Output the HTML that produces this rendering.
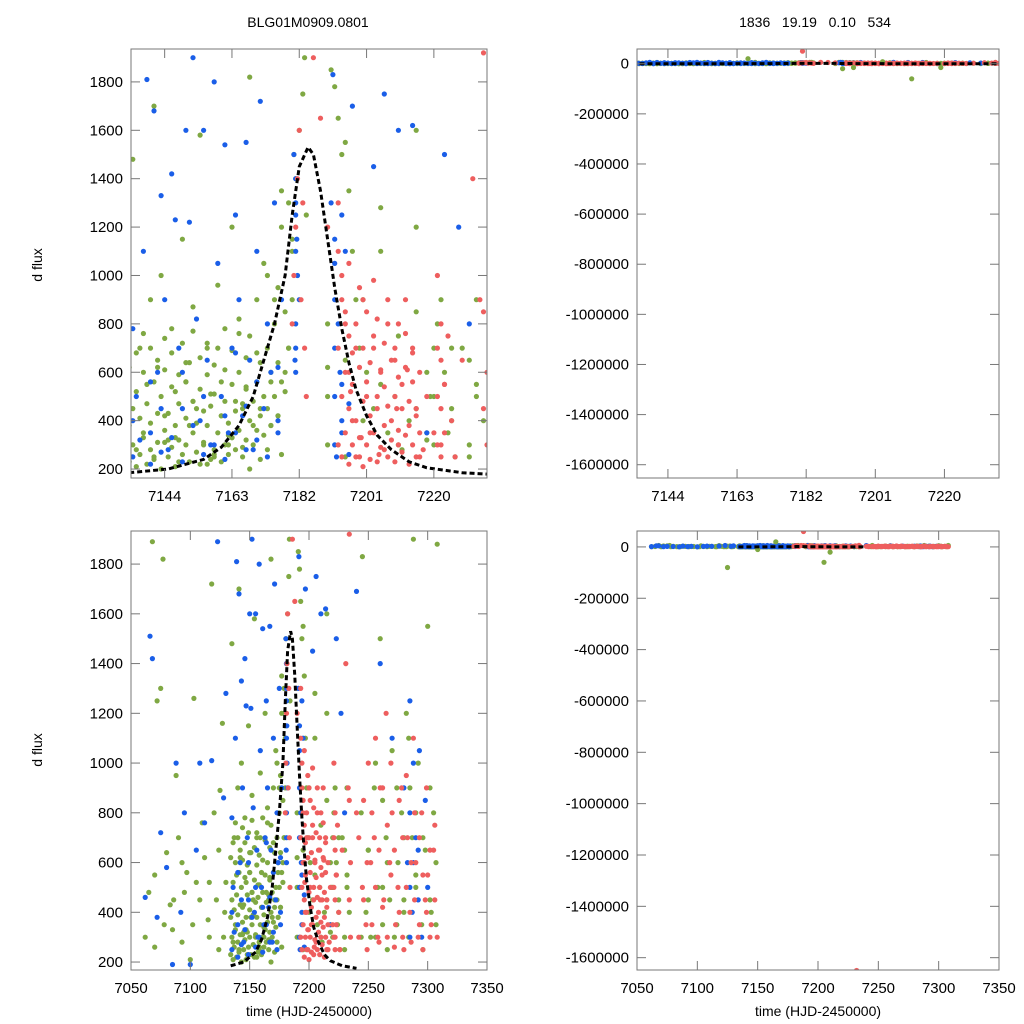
<!DOCTYPE html>
<html><head><meta charset="utf-8">
<style>
html,body{margin:0;padding:0;background:#fff;}
svg{display:block;font-family:"Liberation Sans",Arial,sans-serif;}
</style></head>
<body>
<svg id="chart" width="1024" height="1024" viewBox="0 0 1024 1024">
<text x="308" y="27" font-size="14" text-anchor="middle">BLG01M0909.0801</text>
<text x="815" y="27" font-size="14" text-anchor="middle" xml:space="preserve">1836   19.19   0.10   534</text>
<text transform="translate(42,265) rotate(-90)" font-size="14" text-anchor="middle">d flux</text>
<text transform="translate(42,750) rotate(-90)" font-size="14" text-anchor="middle">d flux</text>
<text x="309" y="1016" font-size="14" text-anchor="middle">time (HJD-2450000)</text>
<text x="818" y="1016" font-size="14" text-anchor="middle">time (HJD-2450000)</text>
</svg>
<script>
// ---- data ----
const greenT=[7065,7068,7072,7075,7077,7080,7083,7085,7088,7090,7095,7097,7100,7103,7105,7110,7112,7115,7118,7120,7122,7125,7127,7128,7130,
7135,7136,7137,7138,7139,7140,7141,7142,7143,7144,7145,7146,7147,7148,7149,7150,7151,7152,7153,7154,7155,7156,7157,7158,7159,7160,7161,7162,7163,7164,7165,7166,7167,7168,7169,7170,7171,7172,7173,7174,7175,7176,7177,7178,7179,7180,7181,7182,7183,7183.5,7184,7180.5,
7141,7147,7152,7158,7163,7168,7171,7174,7177,7144,7150,7156,7162,7166,
7190,7191,7192,7193,7194,7195,7196,7197,7198,7199,7201,7203,7205,7207,7209,7211,7213,7215,7218,7219,7220,7221,7222,7223,7224,7225,7226,7228,7230,7232,7234,
7245,7248,7250,7252,7255,7258,7260,7262,7265,7268,7270,7272,7275,7278,7280,7282,7285,7287,7288,7290,7292,7295,7298,7300,7303,7305,7308];
const greenF=[480,1890,1250,1300,1820,640,430,330,950,700,480,560,210,1260,520,760,620,370,1720,800,450,890,1160,300,520,
1480,280,700,350,550,900,250,620,1000,420,320,780,520,230,1150,640,380,870,450,1580,300,700,510,250,960,420,610,340,1200,480,760,290,540,1820,380,680,450,1050,280,600,900,420,1350,520,700,1100,1400,1600,1750,1900,1250,1500,1700,
330,480,260,330,200,240,380,260,310,560,220,300,450,620,
1850,1780,1650,1500,1550,1350,1100,900,700,600,450,1280,350,500,280,400,1600,320,500,700,800,900,600,350,450,250,700,300,550,400,1830,
400,650,300,900,500,1500,350,700,450,1050,300,600,800,400,1200,900,700,1900,500,1000,350,650,1550,400,800,1880,300];
// grouped extra observations: [time, [fluxes...]]
const greenNights=[[7062,[300]],[7070,[260,550]],[7078,[350]],[7086,[450]],[7093,[280,600]],[7102,[350]],[7108,[450]],[7116,[300,520]],[7124,[250,650]],[7129,[400]],
[7134,[230,380,620]],[7135,[300,450]],[7136,[210,520,680]],[7137,[260,410]],[7138,[330,600,760]],[7139,[220,470]],[7140,[280,390,700]],[7141,[240,560]],[7142,[310,430,650]],[7143,[200,500]],[7144,[360,610,740]],[7145,[250,430]],[7146,[290,540,680]],[7147,[210,380]],[7148,[320,470,590]],[7149,[260,720]],[7150,[300,410,560]],[7151,[230,640]],[7152,[350,480,770]],[7153,[270,390]],[7154,[220,530,660]],[7155,[310,440]],[7156,[380,590,720]],[7157,[240,460]],[7158,[280,510,630]],[7159,[350,700]],[7160,[230,420,560]],[7161,[300,480,780]],[7162,[260,390]],[7163,[330,550,690]],[7164,[280,440]],[7165,[360,600,820]],[7166,[250,470]],[7167,[320,530,660]],[7168,[400,750]],[7169,[300,480]],[7170,[360,560,900]],[7171,[420,640]],[7172,[340,500]],[7173,[450,700,1000]],[7174,[380,560]],[7175,[500,800]],[7176,[420,640,950]],[7177,[560,1200]],[7178,[600,850]],[7179,[700,1300]],[7180,[900,1150]],
[7190,[300,500,800]],[7195,[250,650]],[7200,[400,900]],[7205,[550,1100]],[7210,[300,750]],[7215,[450,850,1200]],[7218,[350,600]],[7220,[300,500]],[7225,[400,700]],[7230,[250,650]],[7232,[500,900]],[7244,[300,800]],[7250,[450,650]],[7256,[300,1000]],[7262,[500,850]],[7266,[250,600]],[7274,[350,900]],[7280,[450,700]],[7284,[300,1100]],[7290,[550,800]],[7296,[250,700]],[7302,[450,900]],[7307,[350,600]]];
const blueT=[7062,7066,7068,7072,7075,7080,7085,7088,7092,7095,7100,7105,7108,7112,7118,7123,7128,7130,
7135,7136,7138,7139,7140,7141,7142,7143,7144,7145,7146,7147,7148,7149,7150,7151,7152,7153,7154,7155,7156,7157,7158,7159,7160,7161,7162,7163,7164,7165,7166,7167,7168,7169,7170,7171,7172,7173,7174,7175,7176,7177,
7180.5,7181,7181.5,7181,7180.8,7181.3,7182,7181,
7191,7192,7193,7193.5,7194,7192.5,7191.5,7195,7197,7203,7206,7210,7214,7218,7223,7227,7230,7240,7260,7270,7280,7283,7285,7287,7290,7293,7295,7298,7300];
const blueF=[460,1510,1420,380,720,580,190,1000,400,800,190,650,1000,760,1010,1890,860,1280,
780,500,1100,1810,350,1680,600,1330,900,280,1420,1230,700,450,1600,1220,1900,820,400,1600,650,300,1800,1050,500,1540,350,700,1250,900,420,1550,650,280,1100,1720,450,800,600,1300,350,900,
1500,1300,1000,800,650,1150,900,1400,
1300,1050,800,600,400,250,1830,1100,1700,1450,1750,1600,1620,350,1500,1200,800,1690,1400,1100,900,600,1250,400,700,1050,300,850,500];
const blueNights=[[7135,[250,400]],[7137,[320]],[7140,[220,560]],[7143,[270,450]],[7146,[330]],[7149,[230,600]],[7152,[380]],[7155,[260,500]],[7158,[300]],[7161,[240,420]],[7164,[350,680]],[7167,[280,460]],[7170,[320,560]],[7173,[250]],[7176,[400,620]],[7181,[600,700,1100,1250]],[7192,[300,500,700,900,1150]],[7194,[350,550,1250]],[7196,[260,470]],[7285,[300,500,800]],[7288,[600,1000]],[7292,[450,650]]];
const redT=[7180,7180.5,7181,7181.5,7182,7182.5,7183,7183.5,7184,
7193,7194,7195,7196,7197,7198,7199,7200,7201,7202,7203,7204,7205,7206,7207,7208,7209,7210,7211,7212,7213,7214,7215,7216,7218,7220,7221,7222,7223,7224,7225,7226,7228,7231,7233,7234,
7240,7245,7248,7250,7252,7255,7258,7260,7263,7265,7268,7270,7273,7275,7278,7280,7283,7285,7288,7290,7292,7295,7298,7300,7303,7305,7308,7188,7190,7186,7196.5,7199.5,7204.5,7209.5,7212.5];
const redF=[800,1000,1200,1400,1600,900,1300,700,500,
1300,1000,800,600,400,700,250,900,500,350,750,450,600,280,800,400,650,300,550,900,380,700,450,250,500,350,1000,300,550,750,400,250,650,1400,900,1920,
800,500,350,1000,600,700,300,900,450,1200,600,800,350,500,900,250,700,400,1100,600,300,800,450,550,350,650,300,1650,1200,1900,520,330,260,450,610];
const redNights=[[7193,[300,700,1100]],[7194,[250,500,900]],[7195,[350,600,850]],[7196,[220,450,750,1050]],[7197,[300,550,680]],[7198,[250,400,800]],[7199,[330,620,950]],[7200,[210,480,700]],[7201,[300,560,850]],[7202,[240,420,640]],[7203,[350,700,980]],[7204,[230,500,820]],[7205,[290,610]],[7206,[380,540,720]],[7207,[250,460,900]],[7208,[320,650]],[7209,[230,500,700]],[7210,[360,580,800]],[7211,[270,450]],[7212,[340,620,760]],[7213,[220,480]],[7214,[300,560,680]],[7215,[250,420]],[7216,[350,600]],[7217,[280]],[7221,[300,500,700]],[7222,[250,450,650,800]],[7223,[350,550]],[7234,[450,850]],[7235,[300,600]],
[7242,[300,700]],[7246,[450,850]],[7249,[250,600]],[7253,[350,800]],[7256,[500,1100]],[7259,[280,650]],[7262,[420,900]],[7266,[300,750]],[7269,[550,1000]],[7272,[260,650]],[7276,[400,850]],[7279,[300,700]],[7282,[500,950]],[7286,[280,600]],[7289,[450,800]],[7293,[350,700]],[7296,[250,550]],[7299,[400,900]],[7302,[300,650]],[7306,[450,750]]];
const modelT=[7134,7145,7155,7160,7165,7169,7172,7175,7178,7180,7182,7184.5,7186,7188,7190,7192,7194,7196,7198,7201,7204,7208,7213,7218,7228,7240];
const modelF=[185,200,240,290,380,500,650,800,1000,1250,1450,1530,1500,1350,1150,950,780,640,530,420,340,280,230,205,185,175];
// outliers in right panels
const outTopT=[7192,7211,7181,7195,7203,7219,7166];
const outTopF=[-20000,-60000,50000,-15000,8000,-15000,20000];
const outTopC=['g','g','r','g','g','g','g'];
const outBotT=[7125,7205,7188,7232,7165,7210,7150];
const outBotF=[-80000,-60000,60000,-1650000,20000,-20000,-10000];
const outBotC=['g','g','r','r','g','g','g'];
const leftTicksTop=[200,400,600,800,1000,1200,1400,1600,1800];
const xTicksTop=[7144,7163,7182,7201,7220];
const xTicksBot=[7050,7100,7150,7200,7250,7300,7350];
const rightTicks=[0,-200000,-400000,-600000,-800000,-1000000,-1200000,-1400000,-1600000];

const COL={g:'#7fa843',b:'#1a5ee8',r:'#ee5e5e'};
const NS='http://www.w3.org/2000/svg';
const svg=document.getElementById('chart');
function mk(tag,attrs,parent){const e=document.createElementNS(NS,tag);for(const k in attrs)e.setAttribute(k,attrs[k]);(parent||svg).appendChild(e);return e;}

const panels=[
 {id:'top-left',x0:131,x1:487,y0:49,y1:478,t0:7134.5,t1:7235,f0:163,f1:1936,yt:leftTicksTop,xt:xTicksTop,right:false},
 {id:'top-right',x0:637,x1:999,y0:49,y1:478,t0:7135.5,t1:7235,f0:-1653000,f1:58800,yt:rightTicks,xt:xTicksTop,right:true,oT:outTopT,oF:outTopF,oC:outTopC},
 {id:'bottom-left',x0:131,x1:487,y0:531,y1:970,t0:7050,t1:7350,f0:168,f1:1933,yt:leftTicksTop,xt:xTicksBot,right:false},
 {id:'bottom-right',x0:637,x1:999,y0:531,y1:970,t0:7050,t1:7350,f0:-1648000,f1:62000,yt:rightTicks,xt:xTicksBot,right:true,oT:outBotT,oF:outBotF,oC:outBotC}
];
panels.forEach((p,i)=>{
 const sx=t=>p.x0+(t-p.t0)/(p.t1-p.t0)*(p.x1-p.x0);
 const sy=f=>p.y1-(f-p.f0)/(p.f1-p.f0)*(p.y1-p.y0);
 const clipId='clip'+i;
 const cp=mk('clipPath',{id:clipId});
 mk('rect',{x:p.x0,y:p.y0,width:p.x1-p.x0,height:p.y1-p.y0},cp);
 const g=mk('g',{'clip-path':'url(#'+clipId+')'});
 
 
 const sc=p.right?3:1;
 const dot=(t,f,c,nm)=>{const e=mk('circle',{cx:sx(t).toFixed(1),cy:sy(f).toFixed(1),r:2.6,fill:COL[c]},g);
  
  };
 greenT.forEach((t,k)=>dot(t,greenF[k]*sc,'g','green-point'));
 greenNights.forEach(n=>n[1].forEach(f=>dot(n[0],f*sc,'g','green-point')));
 blueT.forEach((t,k)=>dot(t,blueF[k]*sc,'b','blue-point'));
 blueNights.forEach(n=>n[1].forEach(f=>dot(n[0],f*sc,'b','blue-point')));
 redT.forEach((t,k)=>dot(t,redF[k]*sc,'r','red-point'));
 redNights.forEach(n=>n[1].forEach(f=>dot(n[0],f*sc,'r','red-point')));
 if(p.oT)p.oT.forEach((t,k)=>dot(t,p.oF[k],p.oC[k],'outlier-point'));
 const d=modelT.map((t,k)=>(k?'L':'M')+sx(t).toFixed(1)+','+sy(modelF[k]).toFixed(1)).join('');
 const ml=mk('path',{d:d,fill:'none',stroke:'#000','stroke-width':3,'stroke-dasharray':'5,3'},g);
 
 
 const fr=mk('rect',{x:p.x0,y:p.y0,width:p.x1-p.x0,height:p.y1-p.y0,fill:'none',stroke:'#777','stroke-width':1});
 
 
 p.yt.forEach(v=>{const y=sy(v);
  mk('line',{x1:p.x0,x2:p.x0+9,y1:y,y2:y,stroke:'#777'});
  mk('line',{x1:p.x1,x2:p.x1-9,y1:y,y2:y,stroke:'#777'});
  const tx=mk('text',{x:p.x0-8,y:y+5,'font-size':15,'text-anchor':'end'});tx.textContent=v;
  
  });
 p.xt.forEach(v=>{const x=sx(v);
  mk('line',{x1:x,x2:x,y1:p.y1,y2:p.y1-9,stroke:'#777'});
  mk('line',{x1:x,x2:x,y1:p.y0,y2:p.y0+9,stroke:'#777'});
  const tx=mk('text',{x:x,y:p.y1+23,'font-size':15,'text-anchor':'middle'});tx.textContent=v;
  
  });
});
</script>
</body></html>
